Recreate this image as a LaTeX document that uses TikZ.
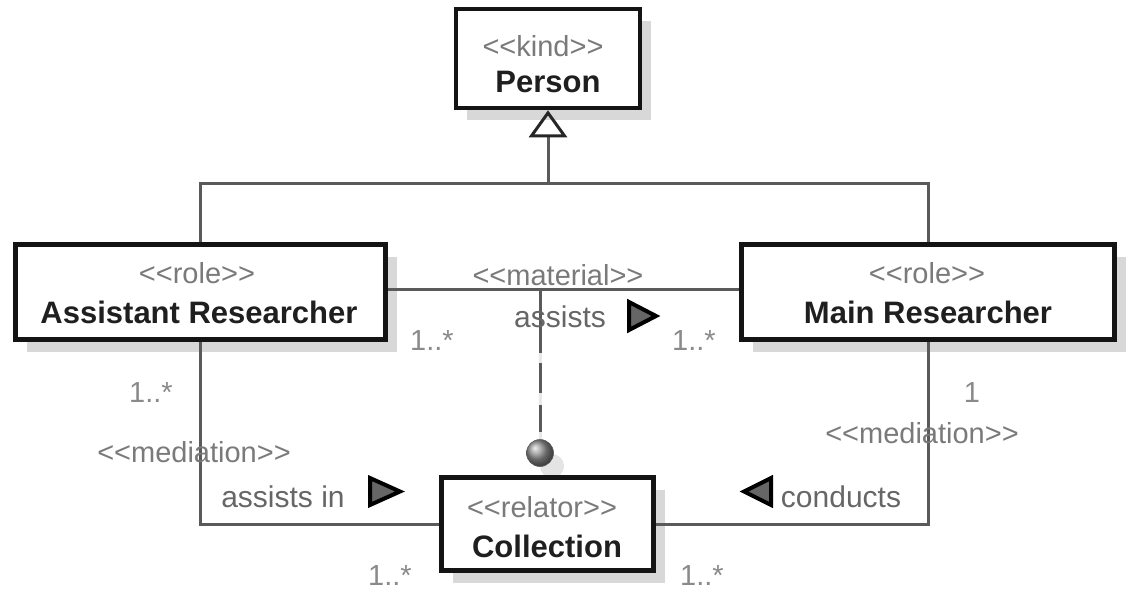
\documentclass[tikz,border=0pt]{standalone}
\usepackage{fontspec}
\setmainfont{Liberation Sans}
\usetikzlibrary{arrows.meta,shadows,backgrounds}

\definecolor{stereo}{HTML}{7A7A7A}
\definecolor{label}{HTML}{666666}
\definecolor{mult}{HTML}{8A8A8A}
\definecolor{wire}{HTML}{5A5A5A}
\definecolor{wireshade}{HTML}{E8E8E8}
\definecolor{boxshade}{HTML}{D8D8D8}

% stereotype brackets: two separate angle characters on each side
\newcommand\stereotype[1]{<\kern0pt<#1>\kern0pt>}

\tikzset{
  umlbox/.style={draw=black!92, line width=4.5pt, fill=white, rectangle,
    inner sep=0pt, anchor=center,
    drop shadow={shadow xshift=11pt, shadow yshift=-12pt, fill=boxshade, opacity=1}},
  sttext/.style={anchor=base, inner sep=0pt, text=stereo,
    font=\fontsize{29}{34}\selectfont},
  nametext/.style={anchor=base, inner sep=0pt, text=black!88,
    font=\fontsize{31}{36}\selectfont\bfseries},
  lbltext/.style={anchor=base, inner sep=0pt, text=label,
    font=\fontsize{30}{36}\selectfont},
  multtext/.style={anchor=base, inner sep=0pt, text=mult,
    font=\fontsize{29}{34}\selectfont},
  wireline/.style={draw=wire, line width=3pt},
  wireshadow/.style={draw=wireshade, line width=3pt},
  navtri/.style={draw=black, fill=black!60, line width=4pt, line join=miter},
}

\begin{document}
\begin{tikzpicture}[x=1pt, y=-1pt]
  \useasboundingbox (0,0) rectangle (1132,590);

  % classes
  \node[umlbox, minimum width=184pt, minimum height=99pt] (person) at (548,58.5) {};
  \node[umlbox, minimum width=370pt, minimum height=95pt] (assist) at (200.5,292) {};
  \node[umlbox, minimum width=373pt, minimum height=95pt] (main) at (928,292) {};
  \node[umlbox, minimum width=212pt, minimum height=93pt] (coll) at (547.5,524) {};

  \node[sttext]   (person-st) at (543,56)  {\stereotype{kind}};
  \node[nametext] (person-nm) at (548,92)  {Person};
  \node[sttext]   (assist-st) at (197,283) {\stereotype{role}};
  \node[nametext] (assist-nm) at (199,323) {Assistant Researcher};
  \node[sttext]   (main-st)   at (927,283) {\stereotype{role}};
  \node[nametext] (main-nm)   at (928,323) {Main Researcher};
  \node[sttext]   (coll-st)   at (542,517) {\stereotype{relator}};
  \node[nametext] (coll-nm)   at (547,557) {Collection};

  % connector points
  \coordinate (gj) at (548,183);
  \coordinate (mat) at (540,289);
  \node[circle, inner sep=0pt, minimum size=27pt, shading=ball, ball color=gray!85,
        draw=gray!70!black, line width=0.6pt] (ball) at (540,453) {};

  % faint connector shadows
  \begin{pgfonlayer}{background}
    \begin{scope}[shift={(10,10)}]
      \draw[wireshadow] (assist.north) |- (gj) -| (main.north);
      \draw[wireshadow] (gj) -- ([yshift=-28pt]person.south);
      \draw[wireshadow] ([yshift=3pt]assist.east) -- ([yshift=3pt]main.west);
      \draw[wireshadow] (mat) -- (ball.north);
      \draw[wireshadow] (assist.south) |- (coll.west);
      \draw[wireshadow] (main.south) |- (coll.east);
    \end{scope}
    \fill[boxshade!70] (552,466) circle (12pt);
  \end{pgfonlayer}

  % generalization
  \draw[wireline] (assist.north) |- (gj) -| (main.north);
  \draw[wireline, -{Triangle[open, length=27pt, width=38pt, line width=3pt, color=black!85]}]
    (gj) -- (person.south);

  % material association and its relator
  \draw[wireline] ([yshift=3pt]assist.east) -- ([yshift=3pt]main.west);
  \draw[wireline, dash pattern=on 64pt off 10pt on 30pt off 12pt on 27pt off 20pt]
    (mat) -- (ball.north);

  % mediations
  \draw[wireline] (assist.south) |- (coll.west);
  \draw[wireline] (main.south) |- (coll.east);

  % labels of the material association
  \node[sttext]   (mat-st)  at (558,285) {\stereotype{material}};
  \node[lbltext]  (mat-nm)  at (560,327) {assists};
  \draw[navtri] (629,302) -- (656,316) -- (629,330) -- cycle;
  \node[multtext] (mat-m1) at (432,350) {1..*};
  \node[multtext] (mat-m2) at (694,350) {1..*};

  % labels of the left mediation
  \node[multtext] (med1-m1) at (151,402) {1..*};
  \node[sttext]   (med1-st) at (194,462) {\stereotype{mediation}};
  \node[lbltext]  (med1-nm) at (283,507) {assists in};
  \draw[navtri] (370,478) -- (400,491.5) -- (370,505) -- cycle;
  \node[multtext] (med1-m2) at (390,585) {1..*};

  % labels of the right mediation
  \node[multtext] (med2-m1) at (972,402) {1};
  \node[sttext]   (med2-st) at (922,443) {\stereotype{mediation}};
  \node[lbltext]  (med2-nm) at (841,507) {conducts};
  \draw[navtri] (771,478) -- (744,491.5) -- (771,505) -- cycle;
  \node[multtext] (med2-m2) at (702,585) {1..*};
\end{tikzpicture}
\end{document}
